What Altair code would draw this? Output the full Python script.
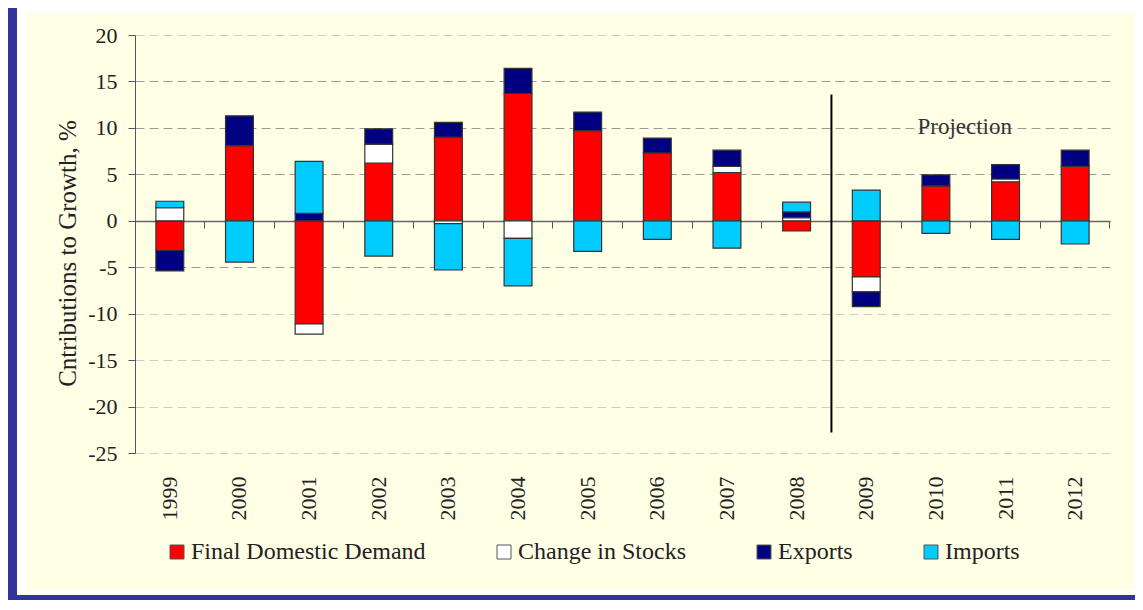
import altair as alt
import pandas as pd

# ---------------- data ----------------
years = ["1999", "2000", "2001", "2002", "2003", "2004", "2005",
         "2006", "2007", "2008", "2009", "2010", "2011", "2012"]
series = ["Final Domestic Demand", "Change in Stocks", "Exports", "Imports"]
colors = ["#FF0000", "#FFFFFF", "#000080", "#00CCFF"]

final_domestic_demand = [-3.2, 8.1, -11.1, 6.2, 9.0, 13.7, 9.7, 7.3, 5.2, -1.1, -6.05, 3.75, 4.2, 5.85]
change_in_stocks = [1.4, 0.0, -1.1, 2.05, -0.3, -1.9, 0.0, 0.0, 0.65, 0.35, -1.6, 0.0, 0.3, 0.0]
exports = [-2.2, 3.2, 0.8, 1.65, 1.6, 2.7, 2.0, 1.6, 1.75, 0.6, -1.6, 1.2, 1.55, 1.75]
imports = [0.7, -4.45, 5.6, -3.8, -5.0, -5.1, -3.3, -2.0, -2.95, 1.05, 3.3, -1.35, -2.0, -2.5]

y_ticks = [-25, -20, -15, -10, -5, 0, 5, 10, 15, 20]

proj_year = ["2009"]
proj_top = [13.6]
proj_bottom = [-22.8]

ann_year = ["2011"]
ann_y = [10.1]
ann_text = ["Projection"]

FONT = "Liberation Serif"

# ---------------- tables ----------------
rows = []
for idx, (name, vals) in enumerate(zip(series, [final_domestic_demand, change_in_stocks, exports, imports])):
    for yr, v in zip(years, vals):
        rows.append({"year": yr, "series": name, "value": v, "idx": idx})
df = pd.DataFrame(rows)

vdf = pd.DataFrame({"year": proj_year, "top": proj_top, "bottom": proj_bottom})
adf = pd.DataFrame({"year": ann_year, "y": ann_y, "label": ann_text})

W, H = 975, 418
xscale = alt.Scale(type="band", domain=years, paddingInner=0, paddingOuter=0)
yscale = alt.Scale(domain=[-25, 20], nice=False, zero=False)

# ---------------- frame decorations ----------------
one = pd.DataFrame({"a": [0]})


def box(x1, x2, y1, y2, color):
    return alt.Chart(one).mark_rect(color=color).encode(
        x=alt.value(x1), x2=alt.value(x2), y=alt.value(y1), y2=alt.value(y2)
    )


BLUE = "#333399"
deco = [
    box(-118, 1000, -27, -22, "white"),      # top white strip
    box(-118, -108, -27, 565, "white"),      # white strip left
    box(-118, 1000, 555, 560, "white"),      # bottom white strip
    box(-127, -118, -27, 565, BLUE),         # left blue bar
    box(-127, 1000, 560, 565, BLUE),         # bottom blue line
]

# ---------------- bars ----------------
bars = alt.Chart(df).transform_filter("datum.value != 0").mark_bar(
    width=alt.RelativeBandSize(band=0.4), stroke="#333333", strokeWidth=1.2
).encode(
    x=alt.X("year:N", scale=xscale, sort=years,
            axis=alt.Axis(orient="bottom", domain=False, ticks=False, tickSize=0,
                          labelAngle=-90, labelPadding=23, labelFont=FONT,
                          labelFontSize=22, labelColor="#222222", grid=False, title=None)),
    y=alt.Y("value:Q", stack="zero", scale=yscale,
            axis=alt.Axis(values=y_ticks, orient="left", domainColor="#555555",
                          tickColor="#555555", tickSize=7, labelPadding=11,
                          labelExpr="'' + datum.value",
                          labelFont=FONT, labelFontSize=22, labelColor="#222222",
                          grid=True, gridDash=[9, 5],
                          gridColor={"condition": {"test": "datum.value <= -10 || datum.value >= 20",
                                                   "value": "#cccccc"},
                                     "value": "#999999"},
                          title="Cntributions to Growth, %", titleFont=FONT,
                          titleFontSize=25, titleFontWeight="normal", titleColor="#222222",
                          titleAngle=-90, titleX=-68, titleY=218, titleAlign="center",
                          titleBaseline="middle")),
    color=alt.Color("series:N", scale=alt.Scale(domain=series, range=colors),
                    legend=alt.Legend(orient="none", legendX=30, legendY=505,
                                      direction="horizontal", title=None,
                                      symbolType="square", symbolSize=196,
                                      symbolStrokeColor="#555555", symbolStrokeWidth=1,
                                      symbolOpacity=1,
                                      labelFont=FONT, labelFontSize=24, labelColor="#222222",
                                      labelOffset=2, columnPadding=66, labelLimit=500)),
    order=alt.Order("idx:Q", sort="ascending"),
)

# ---------------- zero axis + projection divider ----------------
vline = alt.Chart(vdf).mark_rule(color="black", strokeWidth=2).encode(
    x=alt.X("year:N", bandPosition=0, scale=xscale,
            axis=alt.Axis(orient="bottom", offset=-232, labels=False, domain=True,
                          domainColor="#666666", domainWidth=1.5, ticks=True,
                          tickColor="#555555", tickSize=7, bandPosition=1,
                          tickExtra=True, grid=False, title=None)),
    y=alt.Y("top:Q", scale=yscale, axis=None),
    y2="bottom:Q",
)

ann = alt.Chart(adf).mark_text(font=FONT, fontSize=23, color="#333333", dx=-6,
                               align="center", baseline="middle").encode(
    x=alt.X("year:N", bandPosition=0, scale=xscale, axis=None),
    y=alt.Y("y:Q", scale=yscale, axis=None),
    text="label:N",
)

chart = alt.layer(*deco, bars, vline, ann).resolve_axis(
    x="independent", y="independent"
).properties(
    width=W, height=H,
    autosize=alt.AutoSizeParams(type="none"),
    padding={"left": 127, "top": 27, "right": 25, "bottom": 147},
    background="#FFFFE5",
).configure_view(stroke=None)

chart.save("out.html", embed_options={"renderer": "svg", "actions": False})
